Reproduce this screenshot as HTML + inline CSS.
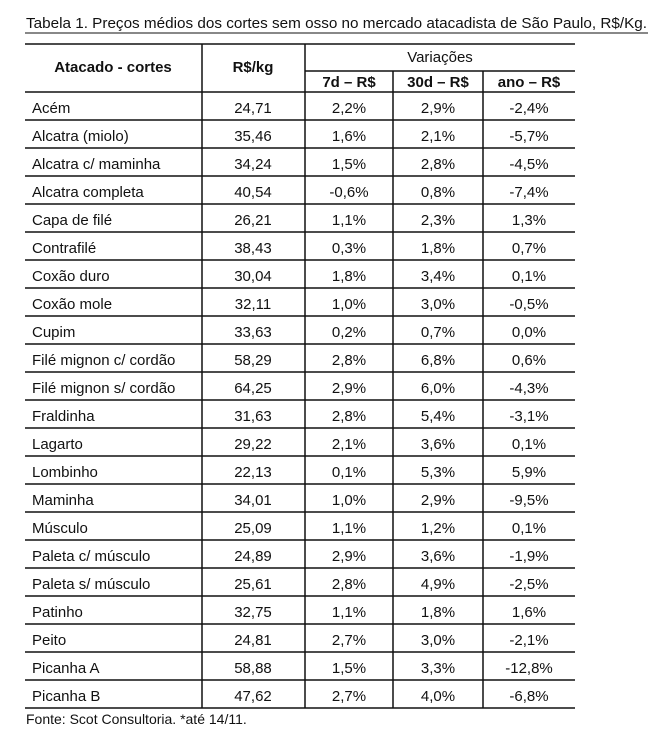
<!DOCTYPE html>
<html><head><meta charset="utf-8"><style>
html,body{margin:0;padding:0;background:#fff}
svg{display:block}
text{font-family:"Liberation Sans",sans-serif;fill:#111}
.c{text-anchor:middle}
.b{font-weight:bold}
</style></head><body>
<svg width="657" height="752" viewBox="0 0 657 752" xmlns="http://www.w3.org/2000/svg">
<text x="26" y="28" font-size="15" textLength="621" lengthAdjust="spacingAndGlyphs">Tabela 1. Preços médios dos cortes sem osso no mercado atacadista de São Paulo, R$/Kg.</text>
<line x1="25" y1="33" x2="648" y2="33" stroke="#111" stroke-width="1"/>
<g stroke="#111" stroke-width="1.5">
<line x1="25" y1="44" x2="575" y2="44"/>
<line x1="305" y1="71" x2="575" y2="71"/>
<line x1="202" y1="44" x2="202" y2="708"/>
<line x1="305" y1="44" x2="305" y2="708"/>
<line x1="393" y1="71" x2="393" y2="708"/>
<line x1="483" y1="71" x2="483" y2="708"/>
</g>
<g stroke="#111" stroke-width="1.5">
<line x1="25" y1="92" x2="575" y2="92"/><line x1="25" y1="120" x2="575" y2="120"/><line x1="25" y1="148" x2="575" y2="148"/><line x1="25" y1="176" x2="575" y2="176"/><line x1="25" y1="204" x2="575" y2="204"/><line x1="25" y1="232" x2="575" y2="232"/><line x1="25" y1="260" x2="575" y2="260"/><line x1="25" y1="288" x2="575" y2="288"/><line x1="25" y1="316" x2="575" y2="316"/><line x1="25" y1="344" x2="575" y2="344"/><line x1="25" y1="372" x2="575" y2="372"/><line x1="25" y1="400" x2="575" y2="400"/><line x1="25" y1="428" x2="575" y2="428"/><line x1="25" y1="456" x2="575" y2="456"/><line x1="25" y1="484" x2="575" y2="484"/><line x1="25" y1="512" x2="575" y2="512"/><line x1="25" y1="540" x2="575" y2="540"/><line x1="25" y1="568" x2="575" y2="568"/><line x1="25" y1="596" x2="575" y2="596"/><line x1="25" y1="624" x2="575" y2="624"/><line x1="25" y1="652" x2="575" y2="652"/><line x1="25" y1="680" x2="575" y2="680"/><line x1="25" y1="708" x2="575" y2="708"/>
</g>
<text class="c b" x="113" y="72" font-size="15">Atacado - cortes</text>
<text class="c b" x="253" y="72" font-size="15">R$/kg</text>
<text class="c" x="440" y="62" font-size="15">Variações</text>
<text class="c b" x="349" y="87" font-size="15">7d – R$</text>
<text class="c b" x="438" y="87" font-size="15">30d – R$</text>
<text class="c b" x="529" y="87" font-size="15">ano – R$</text>
<g font-size="15">
<text x="32" y="113">Acém</text><text class="c" x="253" y="113">24,71</text><text class="c" x="349" y="113">2,2%</text><text class="c" x="438" y="113">2,9%</text><text class="c" x="529" y="113">-2,4%</text>
<text x="32" y="141">Alcatra (miolo)</text><text class="c" x="253" y="141">35,46</text><text class="c" x="349" y="141">1,6%</text><text class="c" x="438" y="141">2,1%</text><text class="c" x="529" y="141">-5,7%</text>
<text x="32" y="169">Alcatra c/ maminha</text><text class="c" x="253" y="169">34,24</text><text class="c" x="349" y="169">1,5%</text><text class="c" x="438" y="169">2,8%</text><text class="c" x="529" y="169">-4,5%</text>
<text x="32" y="197">Alcatra completa</text><text class="c" x="253" y="197">40,54</text><text class="c" x="349" y="197">-0,6%</text><text class="c" x="438" y="197">0,8%</text><text class="c" x="529" y="197">-7,4%</text>
<text x="32" y="225">Capa de filé</text><text class="c" x="253" y="225">26,21</text><text class="c" x="349" y="225">1,1%</text><text class="c" x="438" y="225">2,3%</text><text class="c" x="529" y="225">1,3%</text>
<text x="32" y="253">Contrafilé</text><text class="c" x="253" y="253">38,43</text><text class="c" x="349" y="253">0,3%</text><text class="c" x="438" y="253">1,8%</text><text class="c" x="529" y="253">0,7%</text>
<text x="32" y="281">Coxão duro</text><text class="c" x="253" y="281">30,04</text><text class="c" x="349" y="281">1,8%</text><text class="c" x="438" y="281">3,4%</text><text class="c" x="529" y="281">0,1%</text>
<text x="32" y="309">Coxão mole</text><text class="c" x="253" y="309">32,11</text><text class="c" x="349" y="309">1,0%</text><text class="c" x="438" y="309">3,0%</text><text class="c" x="529" y="309">-0,5%</text>
<text x="32" y="337">Cupim</text><text class="c" x="253" y="337">33,63</text><text class="c" x="349" y="337">0,2%</text><text class="c" x="438" y="337">0,7%</text><text class="c" x="529" y="337">0,0%</text>
<text x="32" y="365">Filé mignon c/ cordão</text><text class="c" x="253" y="365">58,29</text><text class="c" x="349" y="365">2,8%</text><text class="c" x="438" y="365">6,8%</text><text class="c" x="529" y="365">0,6%</text>
<text x="32" y="393">Filé mignon s/ cordão</text><text class="c" x="253" y="393">64,25</text><text class="c" x="349" y="393">2,9%</text><text class="c" x="438" y="393">6,0%</text><text class="c" x="529" y="393">-4,3%</text>
<text x="32" y="421">Fraldinha</text><text class="c" x="253" y="421">31,63</text><text class="c" x="349" y="421">2,8%</text><text class="c" x="438" y="421">5,4%</text><text class="c" x="529" y="421">-3,1%</text>
<text x="32" y="449">Lagarto</text><text class="c" x="253" y="449">29,22</text><text class="c" x="349" y="449">2,1%</text><text class="c" x="438" y="449">3,6%</text><text class="c" x="529" y="449">0,1%</text>
<text x="32" y="477">Lombinho</text><text class="c" x="253" y="477">22,13</text><text class="c" x="349" y="477">0,1%</text><text class="c" x="438" y="477">5,3%</text><text class="c" x="529" y="477">5,9%</text>
<text x="32" y="505">Maminha</text><text class="c" x="253" y="505">34,01</text><text class="c" x="349" y="505">1,0%</text><text class="c" x="438" y="505">2,9%</text><text class="c" x="529" y="505">-9,5%</text>
<text x="32" y="533">Músculo</text><text class="c" x="253" y="533">25,09</text><text class="c" x="349" y="533">1,1%</text><text class="c" x="438" y="533">1,2%</text><text class="c" x="529" y="533">0,1%</text>
<text x="32" y="561">Paleta c/ músculo</text><text class="c" x="253" y="561">24,89</text><text class="c" x="349" y="561">2,9%</text><text class="c" x="438" y="561">3,6%</text><text class="c" x="529" y="561">-1,9%</text>
<text x="32" y="589">Paleta s/ músculo</text><text class="c" x="253" y="589">25,61</text><text class="c" x="349" y="589">2,8%</text><text class="c" x="438" y="589">4,9%</text><text class="c" x="529" y="589">-2,5%</text>
<text x="32" y="617">Patinho</text><text class="c" x="253" y="617">32,75</text><text class="c" x="349" y="617">1,1%</text><text class="c" x="438" y="617">1,8%</text><text class="c" x="529" y="617">1,6%</text>
<text x="32" y="645">Peito</text><text class="c" x="253" y="645">24,81</text><text class="c" x="349" y="645">2,7%</text><text class="c" x="438" y="645">3,0%</text><text class="c" x="529" y="645">-2,1%</text>
<text x="32" y="673">Picanha A</text><text class="c" x="253" y="673">58,88</text><text class="c" x="349" y="673">1,5%</text><text class="c" x="438" y="673">3,3%</text><text class="c" x="529" y="673">-12,8%</text>
<text x="32" y="701">Picanha B</text><text class="c" x="253" y="701">47,62</text><text class="c" x="349" y="701">2,7%</text><text class="c" x="438" y="701">4,0%</text><text class="c" x="529" y="701">-6,8%</text>
<text x="26" y="724" font-size="14">Fonte: Scot Consultoria. *até 14/11.</text>
</g>
</svg>
</body></html>
